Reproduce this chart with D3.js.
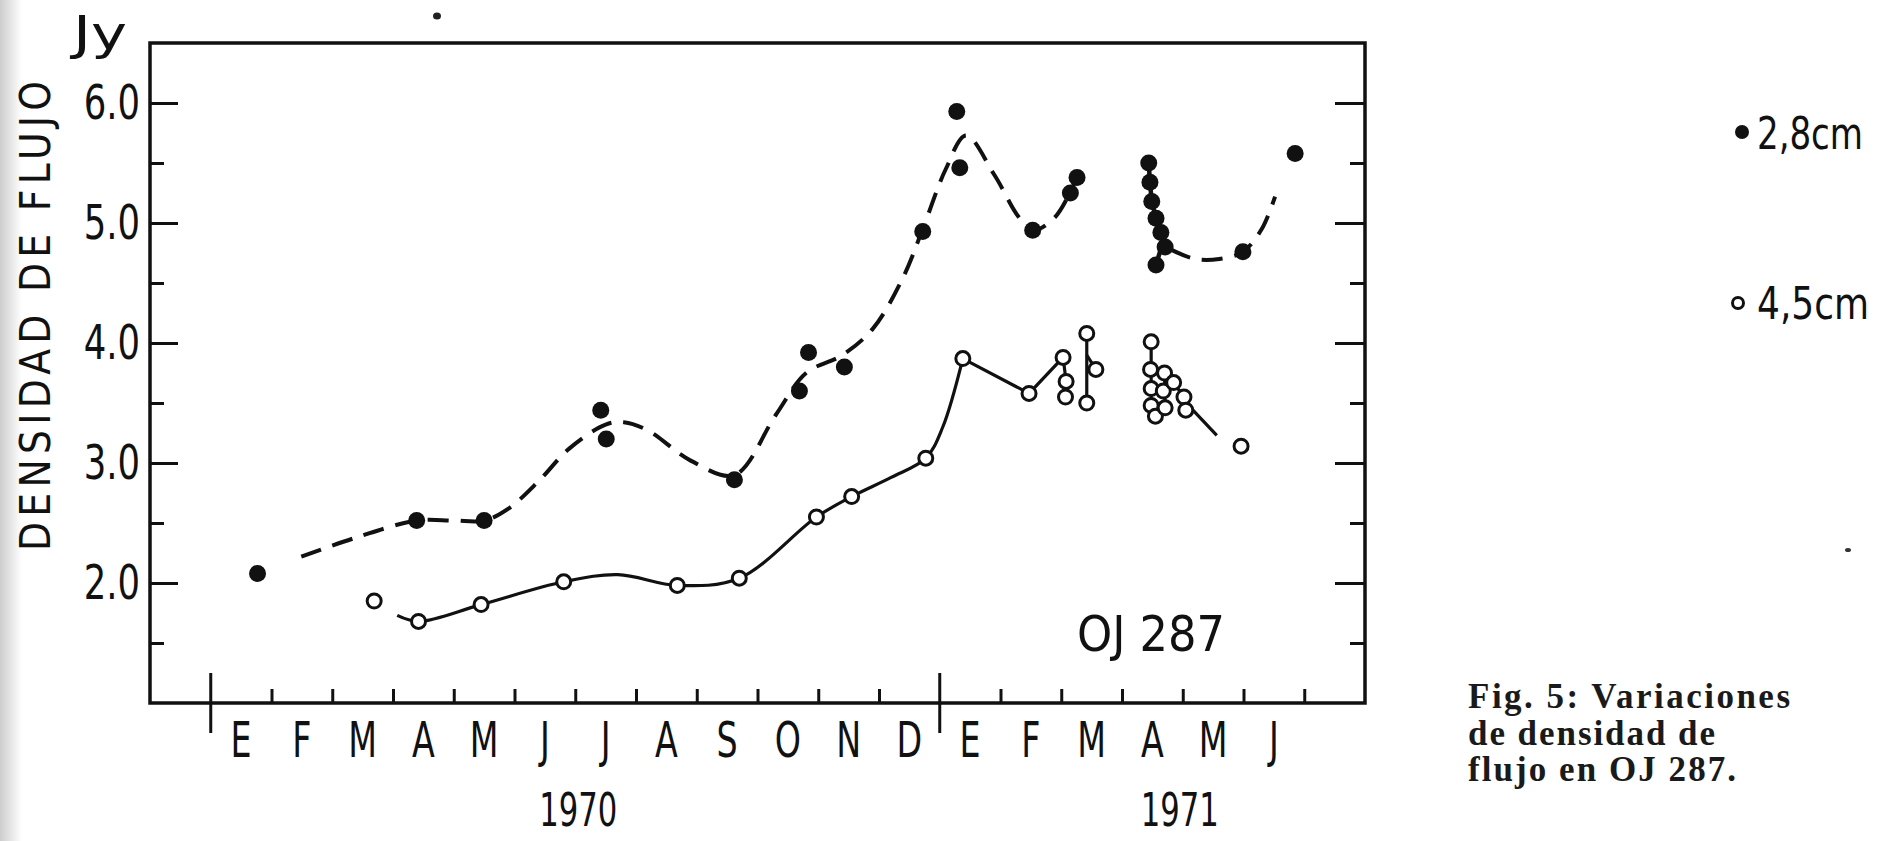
<!DOCTYPE html>
<html>
<head>
<meta charset="utf-8">
<script src="https://cdn.jsdelivr.net/npm/d3@7"></script>
<style>
  body { margin: 0; background: #fff; }
  svg { display: block; }
  .lbl { font-family: "DejaVu Sans Condensed", "DejaVu Sans", sans-serif; font-stretch: condensed; fill: #111; }
  .cap { font-family: "Liberation Serif", "Times New Roman", serif; font-weight: bold; fill: #1a1a1a; }
</style>
</head>
<body>
<svg id="svg" width="1883" height="841"></svg>
<script>
// month index: 0 = start of January 1970
var monthLetters = ["E","F","M","A","M","J","J","A","S","O","N","D","E","F","M","A","M","J"];
var yearLabels = [{label: "1970", m: 6.05}, {label: "1971", m: 15.95}];
var majorTicks = [2.0, 3.0, 4.0, 5.0, 6.0];
var minorTicks = [1.5, 2.5, 3.5, 4.5, 5.5];

// 2,8 cm (filled dots)
var pts28 = [[0.77,2.08],[3.39,2.52],[4.5,2.52],[6.42,3.44],[6.51,3.2],[8.62,2.86],[9.69,3.6],[9.84,3.92],
  [10.43,3.8],[11.72,4.93],[12.28,5.93],[12.33,5.46],[13.53,4.94],[14.15,5.25],[14.26,5.38],
  [15.44,5.5],[15.46,5.34],[15.49,5.18],[15.56,5.04],[15.64,4.92],[15.71,4.8],[15.56,4.65],[16.99,4.76],[17.85,5.58]];
// hand drawn dashed curve through the 2,8 cm points
var curve28a = [[1.49,2.22],[2.4,2.38],[3.39,2.52],[4.0,2.52],[4.5,2.52],[4.9,2.62],[5.4,2.85],[5.9,3.12],
  [6.5,3.32],[6.8,3.34],[7.2,3.27],[7.9,3.02],[8.62,2.9],[9.3,3.4],[9.8,3.75],[10.4,3.9],[10.9,4.12],
  [11.4,4.55],[11.72,4.95],[12.1,5.45],[12.43,5.73],[12.9,5.4],[13.3,5.05],[13.53,4.94],[13.9,5.05],[14.26,5.38]];
var curve28b = [[15.8,4.78],[16.2,4.7],[16.6,4.7],[16.99,4.76],[17.3,4.95],[17.52,5.22]];
var line28 = [[15.44,5.5],[15.46,5.34],[15.49,5.18],[15.56,5.04],[15.64,4.92],[15.71,4.8],[15.8,4.78]];
var line28b = [[15.56,4.65],[15.66,4.82]];

// 4,5 cm (open dots)
var pts45 = [[2.69,1.85],[3.42,1.68],[4.45,1.82],[5.81,2.01],[7.68,1.98],[8.7,2.04],[9.97,2.55],[10.55,2.72],
  [11.77,3.04],[12.38,3.87],[13.47,3.58],[14.03,3.88],[14.08,3.68],[14.07,3.55],[14.42,4.08],[14.57,3.78],
  [14.42,3.5],[15.48,4.01],[15.47,3.78],[15.48,3.62],[15.48,3.48],[15.55,3.39],[15.7,3.75],[15.68,3.6],
  [15.71,3.46],[15.85,3.67],[16.02,3.55],[16.05,3.44],[16.96,3.14]];
var curve45 = [[3.07,1.73],[3.42,1.68],[4.45,1.82],[5.81,2.01],[6.7,2.07],[7.68,1.98],[8.7,2.04],
  [9.97,2.55],[10.55,2.72],[11.2,2.88],[11.77,3.04],[12.05,3.3],[12.38,3.87]];
var lines45 = [
  [[12.38,3.87],[13.47,3.58],[14.03,3.88],[14.08,3.68],[14.07,3.55]],
  [[14.42,4.08],[14.42,3.5]],
  [[14.42,3.9],[14.57,3.78]],
  [[15.48,4.01],[15.48,3.48],[15.55,3.39]],
  [[15.7,3.75],[15.71,3.46]],
  [[15.7,3.75],[15.85,3.67],[16.02,3.55],[16.05,3.44]],
  [[16.02,3.52],[16.56,3.23]]
];

var svg = d3.select("#svg");
var x = d3.scaleLinear().domain([-1, 19]).range([150, 1365]);
var y = d3.scaleLinear().domain([1, 6.5]).range([703, 43]);

// squeeze text to the narrow lettering of the original
function fitText(sel, fn, adjust){
  sel.each(function(d, i){
    var w = this.getComputedTextLength();
    d3.select(this).attr("textLength", fn(w, d, i)).attr("lengthAdjust", adjust || "spacingAndGlyphs");
  });
}

// scan shadow on the left border and a couple of specks
var grad = svg.append("defs").append("linearGradient").attr("id","shade");
grad.append("stop").attr("offset","0%").attr("stop-color","#cdcdcd");
grad.append("stop").attr("offset","100%").attr("stop-color","#ffffff");
svg.append("rect").attr("x",0).attr("y",0).attr("width",22).attr("height",841).attr("fill","url(#shade)");
svg.append("ellipse").attr("cx",437).attr("cy",16).attr("rx",4).attr("ry",3.5).attr("fill","#222");
svg.append("ellipse").attr("cx",1848).attr("cy",550).attr("rx",3).attr("ry",2).attr("fill","#333");

// frame
svg.append("rect")
  .attr("x", x(-1)).attr("y", y(6.5))
  .attr("width", x(19) - x(-1)).attr("height", y(1) - y(6.5))
  .attr("fill","none").attr("stroke","#111").attr("stroke-width",3.5);

function tickAxis(axis, tx, ty){
  var g = svg.append("g").attr("transform","translate(" + tx + "," + ty + ")").call(axis);
  g.select(".domain").remove();
  g.selectAll("line").attr("stroke","#111").attr("stroke-width",3);
  return g;
}

var gl = tickAxis(d3.axisLeft(y).tickValues(majorTicks).tickSize(-28).tickPadding(10).tickFormat(d3.format(".1f")), x(-1), 0);
gl.selectAll("text").attr("class","lbl").attr("font-size",48).attr("fill","#111").attr("font-family",null);
fitText(gl.selectAll("text"), function(w){ return w * 0.82; });
tickAxis(d3.axisLeft(y).tickValues(minorTicks).tickSize(-14).tickFormat(""), x(-1), 0);
tickAxis(d3.axisRight(y).tickValues(majorTicks).tickSize(-30).tickFormat(""), x(19), 0);
tickAxis(d3.axisRight(y).tickValues(minorTicks).tickSize(-15).tickFormat(""), x(19), 0);

var monthBounds = d3.range(1, 19).filter(function(d){ return d !== 12; });
tickAxis(d3.axisBottom(x).tickValues(monthBounds).tickSize(-14).tickFormat(""), 0, y(1));

// year separators crossing the axis
svg.selectAll(".sep").data([0, 12]).enter().append("line")
  .attr("x1", function(d){ return x(d); }).attr("x2", function(d){ return x(d); })
  .attr("y1", y(1) - 30).attr("y2", y(1) + 30)
  .attr("stroke","#111").attr("stroke-width",3);

// month letters
var mon = svg.selectAll(".mon").data(monthLetters).enter().append("text")
  .attr("class","lbl").attr("font-size",50).attr("text-anchor","middle")
  .attr("x", function(d,i){ return x(i + 0.5); }).attr("y", 757)
  .text(function(d){ return d; });
fitText(mon, function(w){ return w * 0.74; });

var yr = svg.selectAll(".yr").data(yearLabels).enter().append("text")
  .attr("class","lbl").attr("font-size",46).attr("text-anchor","middle")
  .attr("x", function(d){ return x(d.m); }).attr("y", 826)
  .text(function(d){ return d.label; });
fitText(yr, function(){ return 78; });

// axis titles
var jy = svg.append("text").attr("class","lbl").attr("font-size",46).attr("x",73).attr("y",49).text("Jy");
fitText(jy, function(){ return 54; });
var yt = svg.append("text").attr("class","lbl").attr("font-size",42).attr("text-anchor","middle")
  .attr("transform","translate(50,316) rotate(-90)").text("DENSIDAD DE FLUJO");
fitText(yt, function(){ return 470; }, "spacing");
var oj = svg.append("text").attr("class","lbl").attr("font-size",50).attr("x",1077).attr("y",651).text("OJ 287");
fitText(oj, function(){ return 148; });

// curves
var lineFn = d3.line().x(function(d){ return x(d[0]); }).y(function(d){ return y(d[1]); });
var smooth = d3.line().curve(d3.curveCatmullRom.alpha(0.5)).x(function(d){ return x(d[0]); }).y(function(d){ return y(d[1]); });

[curve28a, curve28b].forEach(function(c){
  svg.append("path").attr("d", smooth(c)).attr("fill","none")
    .attr("stroke","#111").attr("stroke-width",4).attr("stroke-dasharray","21,12");
});
[line28, line28b].forEach(function(c){
  svg.append("path").attr("d", lineFn(c)).attr("fill","none").attr("stroke","#111").attr("stroke-width",4.5);
});
svg.append("path").attr("d", smooth(curve45)).attr("fill","none").attr("stroke","#111").attr("stroke-width",3.2);
lines45.forEach(function(c){
  svg.append("path").attr("d", lineFn(c)).attr("fill","none").attr("stroke","#111").attr("stroke-width",3.2);
});

// markers
svg.selectAll(".p28").data(pts28).enter().append("circle")
  .attr("cx", function(d){ return x(d[0]); }).attr("cy", function(d){ return y(d[1]); })
  .attr("r", 8.5).style("fill","#111");
svg.selectAll(".p45").data(pts45).enter().append("circle")
  .attr("cx", function(d){ return x(d[0]); }).attr("cy", function(d){ return y(d[1]); })
  .attr("r", 7).style("fill","#fff").style("stroke","#111").attr("stroke-width",3);

// legend
svg.append("circle").attr("cx",1742).attr("cy",132).attr("r",7).style("fill","#111");
var lg1 = svg.append("text").attr("class","lbl").attr("font-size",44).attr("x",1757).attr("y",149).text("2,8cm");
fitText(lg1, function(){ return 106; });
svg.append("circle").attr("cx",1738).attr("cy",303).attr("r",5.5).style("fill","#fff").style("stroke","#111").attr("stroke-width",3);
var lg2 = svg.append("text").attr("class","lbl").attr("font-size",44).attr("x",1757).attr("y",319).text("4,5cm");
fitText(lg2, function(){ return 112; });

// caption
var caption = [["Fig. 5: Variaciones", 322], ["de densidad de", 247], ["flujo en OJ 287.", 268]];
svg.selectAll(".cap").data(caption).enter().append("text")
  .attr("class","cap").attr("font-size",35)
  .attr("x",1468).attr("y", function(d,i){ return 708 + i*36.5; })
  .attr("textLength", function(d){ return d[1]; }).attr("lengthAdjust","spacing")
  .text(function(d){ return d[0]; });
</script>
</body>
</html>
